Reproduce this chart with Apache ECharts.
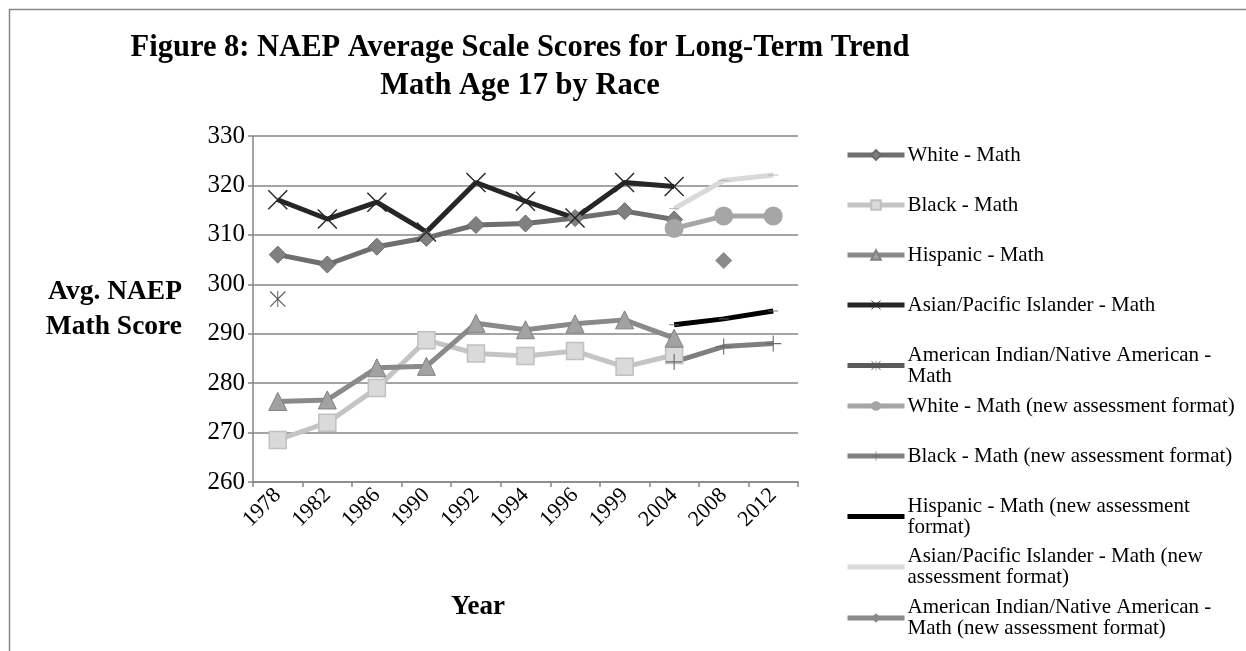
<!DOCTYPE html>
<html>
<head>
<meta charset="utf-8">
<script src="https://cdn.jsdelivr.net/npm/echarts@6/dist/echarts.min.js"></script>
<style>
html,body{margin:0;padding:0;background:#fff;}
#chart{width:1246px;height:651px;}
</style>
</head>
<body>
<div id="chart"></div>
<script>
const years = ['1978','1982','1986','1990','1992','1994','1996','1999','2004','2008','2012'];
const yTicks = [260, 270, 280, 290, 300, 310, 320, 330];
const whiteMath = [306, 304, 307.6, 309.4, 312, 312.3, 313.4, 314.8, 313.1, null, null];
const blackMath = [268.5, 272, 279, 288.7, 286, 285.5, 286.5, 283.3, 285.7, null, null];
const hispanicMath = [276.3, 276.6, 283.1, 283.4, 292.1, 290.8, 292, 292.8, 289.1, null, null];
const asianMath = [317.1, 313.2, 316.6, 310.6, 320.6, 316.8, 313.4, 320.6, 319.8, null, null];
const amIndMath = [297, null, null, null, null, null, null, null, null, null, null];
const whiteNew = [null, null, null, null, null, null, null, null, 311.3, 313.8, 313.8];
const blackNew = [null, null, null, null, null, null, null, null, 284.3, 287.4, 288];
const hispanicNew = [null, null, null, null, null, null, null, null, 291.8, 293, 294.6];
const asianNew = [null, null, null, null, null, null, null, null, 315.3, 321, 322.1];
const amIndNew = [null, null, null, null, null, null, null, null, null, 304.8, null];

const names = [
  'White - Math',
  'Black - Math',
  'Hispanic - Math',
  'Asian/Pacific Islander - Math',
  'American Indian/Native American - Math',
  'White - Math (new assessment format)',
  'Black - Math (new assessment format)',
  'Hispanic - Math (new assessment format)',
  'Asian/Pacific Islander - Math (new assessment format)',
  'American Indian/Native American - Math (new assessment format)'
];
const legendLabels = [
  'White - Math',
  'Black - Math',
  'Hispanic - Math',
  'Asian/Pacific Islander - Math',
  'American Indian/Native American -\nMath',
  'White - Math (new assessment format)',
  'Black - Math (new assessment format)',
  'Hispanic - Math (new assessment\nformat)',
  'Asian/Pacific Islander - Math (new\nassessment format)',
  'American Indian/Native American -\nMath (new assessment format)'
];

const X_PATH = 'path://M0,1 L1,0 L20,19 L19,20 Z M19,0 L20,1 L1,20 L0,19 Z';
const STAR_PATH = 'path://M0,1 L1,0 L20,19 L19,20 Z M19,0 L20,1 L1,20 L0,19 Z M9.4,0 L10.6,0 L10.6,20 L9.4,20 Z';
const PLUS_PATH = 'path://M9.3,0 L10.7,0 L10.7,20 L9.3,20 Z M0,9.3 L20,9.3 L20,10.7 L0,10.7 Z';
const DASH_PATH = 'path://M0,0 L20,0 L20,6 L0,6 Z';

const FONT = '"Liberation Serif", "Times New Roman", serif';

function mk(name, data, lineColor, symbol, size, fill, border, bw, keep) {
  return {
    name: name, type: 'line', data: data, connectNulls: false,
    symbol: symbol, symbolSize: size, showAllSymbol: true, symbolKeepAspect: !!keep,
    lineStyle: { color: lineColor, width: 5 },
    itemStyle: { color: fill, borderColor: border, borderWidth: bw },
    emphasis: { disabled: true },
    animation: false
  };
}

const series = [
  mk(names[0], whiteMath, '#6e6e6e', 'diamond', 17, '#808080', '#6a6a6a', 1),
  mk(names[1], blackMath, '#c4c4c4', 'rect', 17, '#dadada', '#c0c0c0', 1.5),
  mk(names[2], hispanicMath, '#8a8a8a', 'triangle', 18, '#a2a2a2', '#808080', 1),
  mk(names[3], asianMath, '#262626', X_PATH, 20, '#262626', '#262626', 0),
  mk(names[4], amIndMath, '#5a5a5a', STAR_PATH, 16, '#5a5a5a', '#5a5a5a', 0),
  mk(names[5], whiteNew, '#a6a6a6', 'circle', 19, '#a6a6a6', '#a6a6a6', 0),
  mk(names[6], blackNew, '#7f7f7f', PLUS_PATH, 16, '#6a6a6a', '#6a6a6a', 0),
  mk(names[7], hispanicNew, '#000000', DASH_PATH, [10, 3], '#6a6a6a', '#6a6a6a', 0, true),
  mk(names[8], asianNew, '#d9d9d9', DASH_PATH, [10, 3], '#b0b0b0', '#b0b0b0', 0, true),
  mk(names[9], amIndNew, '#8a8a8a', 'diamond', 17, '#8a8a8a', '#8a8a8a', 0)
];

const centers = [155, 205, 255, 305, 365.5, 406, 456, 516.5, 567, 618];
const legends = names.map(function (n, i) {
  const twoLine = legendLabels[i].indexOf('\n') >= 0;
  const h = twoLine ? 42 : 21;
  const lg = {
    data: [n], left: 845, top: centers[i] - h / 2, orient: 'vertical',
    padding: 0, itemWidth: 57, itemHeight: 12, itemGap: 0,
    selectedMode: false,
    lineStyle: { width: 5 },
    formatter: function () { return legendLabels[i]; },
    textStyle: { fontFamily: FONT, fontSize: 21, lineHeight: 21, color: '#000', padding: [0, 0, 0, -2] }
  };
  if (i === 7 || i === 8) { lg.itemStyle = { opacity: 0 }; }
  return lg;
});

const chart = echarts.init(document.getElementById('chart'), null, { renderer: 'canvas' });
chart.setOption({
  animation: false,
  backgroundColor: '#fff',
  title: {
    text: 'Figure 8: NAEP Average Scale Scores for Long-Term Trend\nMath Age 17 by Race',
    left: 520, top: 29, textAlign: 'center', padding: 0,
    textStyle: { fontFamily: FONT, fontSize: 30.5, fontWeight: 'bold', lineHeight: 38, color: '#000' }
  },
  legend: legends,
  graphic: [{
    type: 'rect', shape: { x: 9.5, y: 9.5, width: 1300, height: 700 },
    style: { fill: 'none', stroke: '#868686', lineWidth: 1.5 }, silent: true
  }],
  grid: { left: 253, right: 448, top: 136, bottom: 169 },
  xAxis: {
    type: 'category', data: years, boundaryGap: true,
    name: 'Year', nameLocation: 'middle', nameGap: 112,
    nameTextStyle: { fontFamily: FONT, fontSize: 27, fontWeight: 'bold', color: '#000', padding: [0, 95, 0, 0] },
    axisLine: { lineStyle: { color: '#868686', width: 1.5 } },
    axisTick: { show: true, length: 5, lineStyle: { color: '#868686', width: 1.5 } },
    axisLabel: { rotate: 45, fontFamily: FONT, fontSize: 22, color: '#000', margin: 10, interval: 0 },
    splitLine: { show: false }
  },
  yAxis: {
    type: 'value', min: yTicks[0], max: yTicks[yTicks.length - 1], interval: 10,
    name: 'Avg. NAEP\nMath Score', nameLocation: 'middle', nameRotate: 0, nameGap: 71,
    nameTextStyle: { fontFamily: FONT, fontSize: 27.5, fontWeight: 'bold', color: '#000', lineHeight: 35, align: 'right', verticalAlign: 'middle' },
    axisLine: { show: true, lineStyle: { color: '#868686', width: 1.5 } },
    axisTick: { show: true, length: 5, lineStyle: { color: '#868686', width: 1.5 } },
    axisLabel: { fontFamily: FONT, fontSize: 25, color: '#000', margin: 8 },
    splitLine: { lineStyle: { color: '#868686', width: 1.5 } }
  },
  series: series
});
</script>
</body>
</html>
